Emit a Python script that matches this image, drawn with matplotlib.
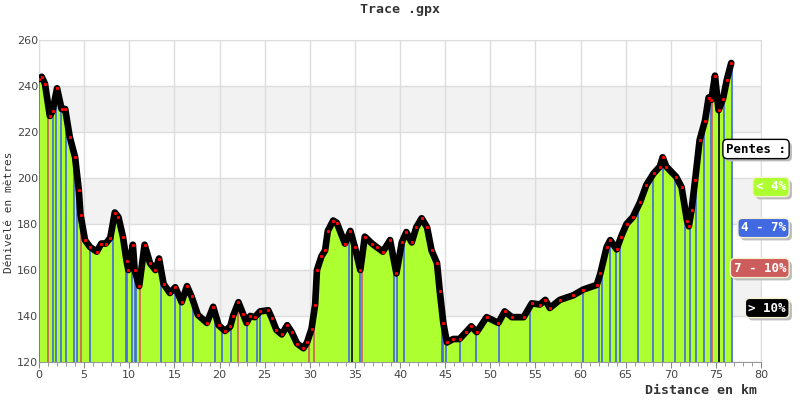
import numpy as np
import matplotlib
matplotlib.use("Agg")
import matplotlib.pyplot as plt
import matplotlib.patheffects as pe
from matplotlib.ticker import MultipleLocator

# ---- data ----
dist = [0, 0.3, 0.66, 1.2, 1.5, 2.0, 2.5, 2.9, 3.4, 4.0, 4.4, 4.6, 5.1, 5.65, 6.4, 6.9, 7.4, 7.9,
        8.4, 8.8, 9.3, 9.7, 9.9, 10.4, 10.6, 11.1, 11.7, 12.3, 12.9, 13.3, 13.8, 14.5, 15.1, 15.8,
        16.4, 16.9, 17.6, 18.6, 19.3, 19.9, 20.6, 21.2, 21.5, 22.1, 22.6, 23.0, 23.4, 23.9, 24.5,
        25.4, 25.8, 26.3, 26.9, 27.5, 28.0, 28.6, 29.3, 29.7, 30.2, 30.6, 30.8, 31.3, 31.7, 32.0,
        32.6, 33.0, 33.9, 34.5, 35.0, 35.6, 36.1, 36.9, 37.4, 38.1, 38.9, 39.6, 40.2, 40.7, 41.3,
        41.8, 42.4, 43.0, 43.5, 44.1, 44.4, 44.8, 45.2, 45.9, 46.6, 47.3, 47.9, 48.5, 49.6, 50.9,
        51.6, 52.4, 53.7, 54.6, 55.5, 56.1, 56.6, 57.7, 59.2, 60.3, 61.8, 62.2, 62.9, 63.3, 64.0,
        64.5, 65.1, 65.8, 66.6, 67.3, 68.1, 68.8, 69.1, 69.5, 70.6, 71.2, 71.8, 72.0, 72.3, 72.7,
        73.2, 73.8, 74.2, 74.5, 74.9, 75.3, 75.8, 76.2, 76.7]
elev = [243, 244, 241, 227, 229, 239, 230, 230, 218, 209, 195, 184, 173, 170, 168, 171.5, 171.5, 174,
        185, 183, 174.5, 164, 160, 171, 160, 153, 171, 163, 160, 165, 154, 150, 152.5, 146,
        153, 148.5, 140.5, 137, 144, 136, 133.5, 135.5, 140, 146, 141, 137, 140, 139.5, 142,
        142.5, 139, 134, 132, 136, 133, 128, 126, 128.5, 134.5, 145, 160, 166, 168.5, 177,
        181.5, 180.5, 171.5, 177, 170, 160, 174.5, 171.5, 170, 168, 173, 158.5, 172, 176.5, 172,
        178.5, 182.5, 178.5, 168.5, 163, 151, 137, 128.5, 130, 130, 133, 135.5, 133, 139.5, 137,
        142, 139.5, 139.5, 145.5, 145, 147, 143.5, 147, 149, 151.5, 153.5, 158.5, 170, 173, 169,
        174.5, 180, 183, 189.5, 197, 202, 205, 209, 205, 200.5, 196, 181.5, 179, 186, 199,
        216.5, 225, 235, 234, 244.5, 229.5, 234.5, 242.5, 250]

slope_4_7 = [0.05, 1.6, 1.9, 2.4, 3.0, 3.9, 4.2, 5.6, 8.2, 9.6, 9.8, 10.3, 10.6, 10.8, 13.5, 15.1,
             15.6, 17.1, 19.5, 20.3, 21.3, 23.1, 24.2, 24.5, 34.3, 35.6, 39.3, 39.7, 40.4, 44.6,
             44.75, 45.1, 46.7, 48.4, 51.0, 54.4, 60.3, 62.0, 62.4, 63.3, 63.9, 64.4, 66.4, 68.0,
             69.1, 70.5, 71.6, 72.1, 72.8, 73.7, 74.45, 75.9, 76.75]
slope_7_10 = [1.0, 4.7, 11.2, 22.0, 29.95, 30.5, 35.8, 74.6]
slope_10 = [34.7, 75.3]

legend_labels = ["Pentes :", "< 4%", "4 - 7%", "7 - 10%", "> 10%"]
legend_colors = ["white", "#adff2f", "#4169e1", "#cd5c5c", "black"]

GREEN = "#adff2f"
BLUE = "#4169e1"
RED = "#cd5c5c"
MONO = "DejaVu Sans Mono"

fig = plt.figure(figsize=(8, 4), dpi=100)
ax = fig.add_axes([39/800, 1-362/400, (761-39)/800, (362-40)/400])

ax.set_xlim(0, 80)
ax.set_ylim(120, 260)

for lo in (140, 180, 220):
    ax.axhspan(lo, lo + 20, color="#f2f2f2", zorder=0, lw=0)
ax.grid(True, color="#dddddd", lw=1, zorder=0.5)
ax.set_axisbelow(True)

d = np.array(dist)
e = np.array(elev)
ax.fill_between(d, 120, e, color=GREEN, lw=0, zorder=2)

for xs, col in ((slope_4_7, BLUE), (slope_7_10, RED), (slope_10, "black")):
    xs = np.array(xs)
    ax.vlines(xs, 120, np.interp(xs, d, e), colors=col, lw=1.2, zorder=3)

ax.plot(d, e, color="black", lw=4.8, zorder=4, solid_capstyle="round", solid_joinstyle="round")
ax.plot(d, e, ls="none", marker="s", ms=1.2, mfc="red", mec="red", zorder=5)

ax.xaxis.set_major_locator(MultipleLocator(5))
ax.xaxis.set_minor_locator(MultipleLocator(1))
ax.yaxis.set_major_locator(MultipleLocator(20))
ax.tick_params(axis="x", which="major", length=4, color="#888888", labelsize=8, labelcolor="#444444", pad=2)
ax.tick_params(axis="x", which="minor", length=3, color="#888888")
ax.tick_params(axis="y", length=0, labelsize=8, labelcolor="#444444", pad=0.5)

for s in ("top", "right", "left"):
    ax.spines[s].set_color("#dddddd")
ax.spines["bottom"].set_color("#999999")

fig.text(0.5, 1-10/400, "Trace .gpx", ha="center", va="center", family=MONO,
         fontsize=9.5, fontweight="bold", color="#333333")
fig.text(9/800, 1-212/400, "Dénivelé en mètres", rotation=90, ha="center", va="center",
         family=MONO, fontsize=8, color="#333333")
fig.text(757/800, 1-390/400, "Distance en km", ha="right", va="center", family=MONO,
         fontsize=9.5, fontweight="bold", color="#333333")

ys = [149, 187, 228, 268, 308]
for lab, col, y in zip(legend_labels, legend_colors, ys):
    tc = "black" if col == "white" else "white"
    ec = "black" if col == "white" else "#f5f0d0"
    t = fig.text(786/800, 1-y/400, lab, ha="right", va="center", family=MONO, fontsize=9,
                 fontweight="bold", color=tc,
                 bbox=dict(boxstyle="round,pad=0.25,rounding_size=0.35", fc=col, ec=ec, lw=1))
    t.get_bbox_patch().set_path_effects([pe.SimplePatchShadow(offset=(2, -2), shadow_rgbFace="#bbbbbb", alpha=1), pe.Normal()])

fig.savefig("out.png", dpi=100)
